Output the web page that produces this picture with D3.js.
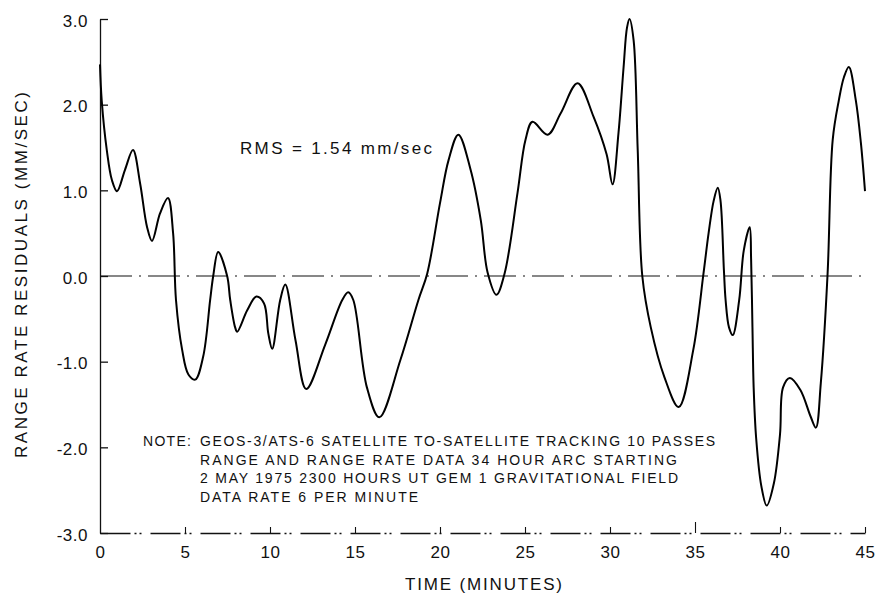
<!DOCTYPE html>
<html>
<head>
<meta charset="utf-8">
<script src="https://cdn.jsdelivr.net/npm/d3@7"></script>
<style>
  body { margin: 0; background: #fff; }
  svg text { font-family: "Liberation Sans", Arial, sans-serif; fill: #111; }
</style>
</head>
<body>
<div id="chart"></div>
<script>
// minutes after start of pass
const times = [
  0, 0.1, 0.4, 0.7, 1.0, 1.47, 1.94, 2.36, 2.77, 3.06, 3.53, 4.0, 4.3, 4.47, 4.83, 5.2, 5.6,
  6.07, 6.48, 6.66, 6.95, 7.48, 7.66, 7.95, 8.07, 8.66, 9.2, 9.65, 9.9, 10.13, 10.6, 10.9,
  11.5, 12.13, 13.25, 14.25, 14.6, 14.9, 15.7, 16.43, 17.67, 18.73, 19.25, 20.0, 20.5, 21.08,
  21.8, 22.4, 22.8, 23.32, 23.8, 24.56, 25.03, 25.44, 26.33, 27.1, 28.09, 29.03, 29.8, 30.15,
  30.5, 30.8, 31.0, 31.15, 31.39, 31.63, 31.9, 32.4, 33.2, 34.04, 34.9, 35.5, 35.8,
  36.1, 36.34, 36.5, 36.7, 36.8, 37.0, 37.22, 37.6, 37.87, 38.22, 38.3, 38.38, 38.45, 38.6,
  38.9, 39.22, 39.64, 40.0, 40.18, 40.58, 41.2, 41.8, 42.11, 42.4, 42.8, 43.1, 43.46, 43.76,
  44.05, 44.46, 44.76, 45.0
];
// range rate residuals, mm/sec
const residuals = [
  2.47, 2.05, 1.47, 1.12, 0.99, 1.24, 1.47, 1.08, 0.57, 0.41, 0.73, 0.91, 0.5, -0.28, -0.86, -1.15, -1.21,
  -0.94, -0.28, 0.0, 0.28, 0.0, -0.28, -0.6, -0.65, -0.4, -0.24, -0.32, -0.67, -0.85, -0.28, -0.1,
  -0.75, -1.32, -0.8, -0.28, -0.19, -0.28, -1.3, -1.65, -0.98, -0.28, 0.03, 0.85, 1.35, 1.65,
  1.24, 0.65, 0.04, -0.22, 0.03, 0.97, 1.59, 1.8, 1.65, 1.9, 2.25, 1.86, 1.42, 1.07,
  1.67, 2.44, 2.9, 3.0, 2.75, 1.47, 0.0, -0.6, -1.18, -1.53, -0.86, 0.03, 0.5,
  0.88, 1.03, 0.88, 0.07, -0.28, -0.6, -0.69, -0.28, 0.3, 0.57, 0.2, -0.6, -1.3, -1.9,
  -2.45, -2.68, -2.42, -1.85, -1.3, -1.19, -1.33, -1.64, -1.77, -1.25, 0.03, 1.59, 2.05, 2.32,
  2.44, 2.05, 1.55, 0.99
];

const xTicks = [0, 5, 10, 15, 20, 25, 30, 35, 40, 45];
const yTicks = [-3, -2, -1, 0, 1, 2, 3];

const rmsLabel = "RMS = 1.54 mm/sec";
const noteHead = "NOTE:";
const noteLines = [
  "GEOS-3/ATS-6 SATELLITE TO-SATELLITE TRACKING 10 PASSES",
  "RANGE AND RANGE RATE DATA 34 HOUR ARC STARTING",
  "2 MAY 1975 2300 HOURS UT GEM 1 GRAVITATIONAL FIELD",
  "DATA RATE 6 PER MINUTE"
];
const noteWidths = [515, 477, 478, 218];

const width = 876;
const height = 597;

const svg = d3.select("#chart").append("svg").attr("width", width).attr("height", height);

const x = d3.scaleLinear().domain([0, 45]).range([100, 865]);
const y = d3.scaleLinear().domain([-3, 3]).range([533, 19]);

// y axis
const yAxis = svg.append("g")
  .attr("transform", `translate(${x(0)},0)`)
  .call(d3.axisLeft(y).tickValues(yTicks).tickSizeInner(-8).tickSizeOuter(0).tickPadding(12)
    .tickFormat((d) => d.toFixed(1)));
yAxis.selectAll("path, line").attr("stroke", "#111").attr("stroke-width", 1.3);
yAxis.selectAll("text").attr("font-size", 17).attr("letter-spacing", 0.5).attr("dy", "0.42em");

// x axis with the broken dash-dot baseline
const xAxis = svg.append("g")
  .attr("transform", `translate(0,${y(-3)})`)
  .call(d3.axisBottom(x).tickValues(xTicks).tickSizeInner(-6).tickSizeOuter(0).tickPadding(13));
xAxis.select(".domain").attr("stroke", "#111").attr("stroke-width", 1.3).attr("stroke-dasharray", "30,4,2,3,2,9");
xAxis.selectAll(".tick line").attr("stroke", "#111").attr("stroke-width", 1.1);
xAxis.selectAll(".tick").filter((d) => d === 0).select("line").remove();
xAxis.selectAll(".tick").filter((d) => d === 35).select("line").attr("y2", -11);
xAxis.selectAll("text").attr("font-size", 17).attr("letter-spacing", 0.5);

// zero reference line
svg.append("line")
  .attr("x1", x(0)).attr("x2", x(45))
  .attr("y1", y(0)).attr("y2", y(0))
  .attr("stroke", "#111").attr("stroke-width", 1.2)
  .attr("stroke-dasharray", "32,7,2,7");

// residual curve
const line = d3.line()
  .x((d, i) => x(times[i]))
  .y((d) => y(d))
  .curve(d3.curveCatmullRom.alpha(0.5));

svg.append("path")
  .datum(residuals)
  .attr("d", line)
  .attr("fill", "none")
  .attr("stroke", "#000")
  .attr("stroke-width", 2);

// labels
svg.append("text")
  .attr("x", 240).attr("y", 154)
  .attr("font-size", 17)
  .attr("textLength", 192).attr("lengthAdjust", "spacing")
  .text(rmsLabel);

svg.append("text")
  .attr("x", 143).attr("y", 446)
  .attr("font-size", 14)
  .attr("textLength", 48).attr("lengthAdjust", "spacing")
  .text(noteHead);

svg.selectAll(".note")
  .data(noteLines)
  .enter()
  .append("text")
  .attr("class", "note")
  .attr("x", 200)
  .attr("y", (d, i) => 446 + i * 18.6)
  .attr("font-size", 14)
  .attr("textLength", (d, i) => noteWidths[i])
  .attr("lengthAdjust", "spacing")
  .text((d) => d);

svg.append("text")
  .attr("x", 405).attr("y", 590)
  .attr("font-size", 17)
  .attr("textLength", 157).attr("lengthAdjust", "spacing")
  .text("TIME (MINUTES)");

svg.append("text")
  .attr("transform", "translate(27,275) rotate(-90)")
  .attr("text-anchor", "middle")
  .attr("font-size", 17)
  .attr("textLength", 366).attr("lengthAdjust", "spacing")
  .text("RANGE RATE RESIDUALS (MM/SEC)");
</script>
</body>
</html>
